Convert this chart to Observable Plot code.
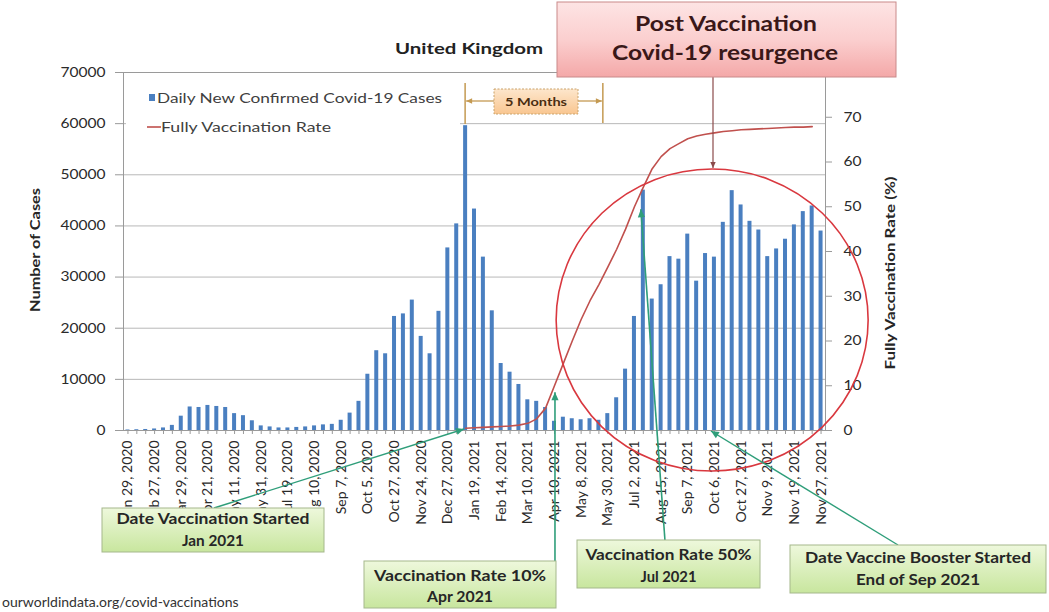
<!DOCTYPE html>
<html>
<head>
<meta charset="utf-8">
<script src="https://cdn.jsdelivr.net/npm/d3@7"></script>
<script src="https://cdn.jsdelivr.net/npm/@observablehq/plot@0.6"></script>
<style>
  html, body { margin: 0; padding: 0; background: #fff; overflow: hidden; }
  #chart svg { display: block; }
</style>
</head>
<body>
<div id="chart"></div>
<script>
// Category labels, one for every third bar
const tickLabels = [
  "Jan 29, 2020", "Feb 27, 2020", "Mar 29, 2020", "Apr 21, 2020", "May 11, 2020",
  "May 31, 2020", "Jul 19, 2020", "Aug 10, 2020", "Sep 7, 2020", "Oct 5, 2020",
  "Oct 27, 2020", "Nov 24, 2020", "Dec 27, 2020", "Jan 19, 2021", "Feb 14, 2021",
  "Mar 10, 2021", "Apr 10, 2021", "May 8, 2021", "May 30, 2021", "Jul 2, 2021",
  "Aug 15, 2021", "Sep 7, 2021", "Oct 6, 2021", "Oct 27, 2021", "Nov 9, 2021",
  "Nov 19, 2021", "Nov 27, 2021"
];

// Daily new confirmed Covid-19 cases, United Kingdom
const dailyCases = [
  100, 150, 200, 300, 500, 1000, 2800, 4600, 4500, 4900,
  4700, 4500, 3300, 2900, 1900, 900, 700, 500, 500, 600,
  700, 900, 1100, 1200, 2000, 3400, 5700, 11000, 15600, 15000,
  22300, 22800, 25500, 18400, 15000, 23300, 35700, 40400, 59600, 43300,
  33900, 23400, 13100, 11400, 9000, 6000, 5700, 4500, 1800, 2600,
  2300, 2100, 2300, 2000, 3300, 6400, 12000, 22300, 47000, 25700,
  28500, 34000, 33500, 38400, 29200, 34600, 33900, 40700, 46900, 44100,
  40900, 39200, 34000, 35500, 37400, 40200, 42800, 43900, 39000
];

// Share of the population fully vaccinated (%), from the start of the rollout
const vaccinationRate = [
  null, null, null, null, null, null, null, null, null, null,
  null, null, null, null, null, null, null, null, null, null,
  null, null, null, null, null, null, null, null, null, null,
  null, null, null, null, null, null, null, null, 0.5, 0.6,
  0.7, 0.8, 0.9, 1.0, 1.2, 1.6, 2.6, 5.0, 10.0, 15.0,
  20.0, 24.8, 29.0, 32.6, 36.5, 40.5, 45.0, 50.0, 54.4, 58.5,
  61.2, 63.0, 64.1, 65.2, 65.8, 66.2, 66.5, 66.8, 67.0, 67.2,
  67.3, 67.4, 67.5, 67.6, 67.7, 67.8, 67.8, 67.9, null
];

const caseTicks = d3.range(0, 70001, 10000);
const rateTicks = d3.range(0, 81, 10);
const K = 70000 / 80; // the right axis runs 0–80 % over the same height as 0–70000 cases

const rows = dailyCases.map((cases, i) => ({i, cases, rate: vaccinationRate[i]}));
const rateRows = rows.filter(d => d.rate != null);

const FONT = "Lato, 'Open Sans', sans-serif";

const chart = Plot.plot({
  width: 1049,
  height: 612,
  marginLeft: 123,
  marginRight: 224,
  marginTop: 72,
  marginBottom: 182,
  style: {fontFamily: FONT, fontSize: "13.5px", color: "#2a2a2a", background: "#fff"},
  x: {type: "band", domain: d3.range(dailyCases.length), paddingInner: 0.55, paddingOuter: 0.275, axis: null},
  y: {domain: [0, 70000], axis: null},
  marks: [
    Plot.gridY({ticks: caseTicks, stroke: "#b8b8b8", strokeOpacity: 1}),
    Plot.frame({stroke: "#9a9a9a"}),
    Plot.barY(rows, {x: "i", y: "cases", fill: "#4a7fc0"}),
    Plot.line(rateRows, {x: "i", y: d => d.rate * K, stroke: "#c0504d", strokeWidth: 1.6}),
    Plot.axisY({ticks: caseTicks, tickSize: 8, tickPadding: 10, tickFormat: d => String(d), label: null, stroke: "#9a9a9a"}),
    Plot.axisY({anchor: "right", ticks: rateTicks.map(v => v * K), tickFormat: d => String(Math.round(d / K)),
                tickSize: 6, tickPadding: 12, label: null, stroke: "#9a9a9a"}),
    Plot.axisX({ticks: d3.range(dailyCases.length), tickFormat: () => "", tickSize: 4, label: null, stroke: "#9a9a9a"}),
    Plot.axisX({ticks: d3.range(0, dailyCases.length, 3), tickFormat: i => tickLabels[i / 3],
                tickRotate: -90, tickSize: 0, tickPadding: 10, label: null, fontSize: 14})
  ]
});

document.getElementById("chart").append(chart);

// Horizontal tick labels are set slightly wide
d3.select(chart).selectAll('g[aria-label="y-axis tick label"] text').each(function () {
  const w = this.getComputedTextLength();
  this.setAttribute("textLength", w * 1.15);
  this.setAttribute("lengthAdjust", "spacingAndGlyphs");
});

// ---- Annotation layer, placed with the chart's own scales ----
const svg = d3.select(chart);
const xs = chart.scale("x"), ys = chart.scale("y");
const cx = i => xs.apply(i) + xs.bandwidth / 2;
const step = cx(1) - cx(0);
const at = t => cx(0) + t * step;
const cy = v => ys.apply(v);

const defs = svg.append("defs");
function vgrad(id, stops) {
  const g = defs.append("linearGradient").attr("id", id)
    .attr("x1", 0).attr("y1", 0).attr("x2", 0).attr("y2", 1);
  stops.forEach(([o, c]) => g.append("stop").attr("offset", o).attr("stop-color", c));
}
vgrad("greenFill", [[0, "#eef8dc"], [1, "#c8e69e"]]);
vgrad("pinkFill", [[0, "#fde4e4"], [0.5, "#fbcfcf"], [1, "#f4a8a8"]]);
vgrad("orangeFill", [[0, "#fde6cc"], [1, "#f9c690"]]);

const layer = svg.append("g").attr("font-family", FONT);

function text(g, x, y, str, {size = 14, weight = "bold", fill = "#262626", anchor = "middle", length = null, rotate = 0} = {}) {
  const t = g.append("text").attr("x", x).attr("y", y).text(str)
    .attr("font-size", size).attr("font-weight", weight).attr("fill", fill).attr("text-anchor", anchor);
  if (rotate) t.attr("transform", `rotate(${rotate},${x},${y})`);
  if (length) t.attr("textLength", length).attr("lengthAdjust", "spacingAndGlyphs");
  return t;
}

function arrow(g, x1, y1, x2, y2, color, {width = 1.3, head = 7} = {}) {
  g.append("line").attr("x1", x1).attr("y1", y1).attr("x2", x2).attr("y2", y2)
    .attr("stroke", color).attr("stroke-width", width);
  const a = Math.atan2(y2 - y1, x2 - x1);
  const p = [
    [x2, y2],
    [x2 - head * Math.cos(a) + head * 0.45 * Math.sin(a), y2 - head * Math.sin(a) - head * 0.45 * Math.cos(a)],
    [x2 - head * Math.cos(a) - head * 0.45 * Math.sin(a), y2 - head * Math.sin(a) + head * 0.45 * Math.cos(a)]
  ];
  g.append("path").attr("d", "M" + p.join("L") + "Z").attr("fill", color);
}

// Legend
layer.append("rect").attr("x", 126).attr("y", 84).attr("width", 334).attr("height", 56).attr("fill", "#fff");
layer.append("rect").attr("x", 149).attr("y", 94).attr("width", 6).attr("height", 7).attr("fill", "#4a7fc0");
text(layer, 157, 103, "Daily New Confirmed Covid-19 Cases", {size: 13, weight: "normal", fill: "#404040", anchor: "start", length: 285});
layer.append("line").attr("x1", 147).attr("x2", 161).attr("y1", 127).attr("y2", 127).attr("stroke", "#c0504d").attr("stroke-width", 1.6);
text(layer, 161, 132, "Fully Vaccination Rate", {size: 13, weight: "normal", fill: "#404040", anchor: "start", length: 170});

// Chart subtitle and axis titles
text(layer, 469, 54, "United Kingdom", {size: 15, fill: "#222", length: 148});
text(layer, 40, 250, "Number of Cases", {size: 14, fill: "#262626", rotate: -90, length: 124});
text(layer, 895, 273, "Fully Vaccination Rate (%)", {size: 13.5, fill: "#262626", rotate: -90, length: 193});

// Ring round the post-vaccination wave
layer.append("ellipse").attr("cx", at(65.8)).attr("cy", cy(21500)).attr("rx", 156).attr("ry", 151)
  .attr("fill", "none").attr("stroke", "#d9383f").attr("stroke-width", 1.6);

// Five-month bracket from the winter peak
const bx0 = cx(38), bx1 = at(53.5), by = 101;
const brown = "#c49a52";
layer.append("line").attr("x1", bx0).attr("x2", bx0).attr("y1", 83).attr("y2", 124).attr("stroke", brown).attr("stroke-width", 1.5);
layer.append("line").attr("x1", bx1).attr("x2", bx1).attr("y1", 83).attr("y2", 123).attr("stroke", brown).attr("stroke-width", 1.5);
arrow(layer, 494, by, bx0 + 1, by, brown, {width: 1.3, head: 6});
arrow(layer, 578, by, bx1 - 1, by, brown, {width: 1.3, head: 6});
layer.append("rect").attr("x", 494).attr("y", 89).attr("width", 84).attr("height", 25)
  .attr("fill", "url(#orangeFill)").attr("stroke", "#c9a26a").attr("stroke-dasharray", "2,1.5");
text(layer, 536, 105.5, "5 Months", {size: 11, fill: "#4a2d10", length: 62});

// Pointer from the headline box to the ring
arrow(layer, 713, 77, 713, 168, "#8b4a4a", {width: 1.2, head: 6});

// Green arrows to the vaccination milestones
const green = "#2f9e7a";
arrow(layer, 214, 508, cx(38) - 1, cy(0) - 1, green, {width: 1.4, head: 8});
arrow(layer, cx(48) + 1, 562, cx(48) + 1, cy(vaccinationRate[48] * K) + 7, green, {width: 1.6, head: 8});
arrow(layer, 665, 541, cx(58) - 2, cy(vaccinationRate[57] * K) + 3, green, {width: 1.6, head: 8});
arrow(layer, 898, 545, cx(66) - 3, cy(0) + 1, green, {width: 1.4, head: 8});

// Headline box
layer.append("rect").attr("x", 557).attr("y", 2).attr("width", 339).attr("height", 75)
  .attr("fill", "url(#pinkFill)").attr("stroke", "#c98a8a").attr("stroke-width", 1);
text(layer, 726, 31, "Post Vaccination", {size: 21, fill: "#3a1818", length: 182});
text(layer, 725, 60, "Covid-19 resurgence", {size: 21, fill: "#3a1818", length: 226});

// Milestone notes
function note(x, y, w, h, lines) {
  layer.append("rect").attr("x", x).attr("y", y).attr("width", w).attr("height", h)
    .attr("fill", "url(#greenFill)").attr("stroke", "#a5b88c").attr("stroke-width", 1);
  lines.forEach(([str, base, len]) => text(layer, x + w / 2, base, str, {size: 15, fill: "#262626", length: len}));
}
note(102, 508, 222, 44, [["Date Vaccination Started", 524, 193], ["Jan 2021", 546, 62]]);
note(364, 561, 192, 47, [["Vaccination Rate 10%", 581, 172], ["Apr 2021", 602, 66]]);
note(577, 540, 183, 48, [["Vaccination Rate 50%", 560, 166], ["Jul 2021", 582, 56]]);
note(790, 545, 256, 48, [["Date Vaccine Booster Started", 563, 226], ["End of Sep 2021", 585, 124]]);

// Data source
const src = text(layer, 2, 607, "ourworldindata.org/covid-vaccinations",
  {size: 12.5, weight: "normal", fill: "#333", anchor: "start"});
src.attr("textLength", src.node().getComputedTextLength() * 1.12).attr("lengthAdjust", "spacingAndGlyphs");
</script>
</body>
</html>
